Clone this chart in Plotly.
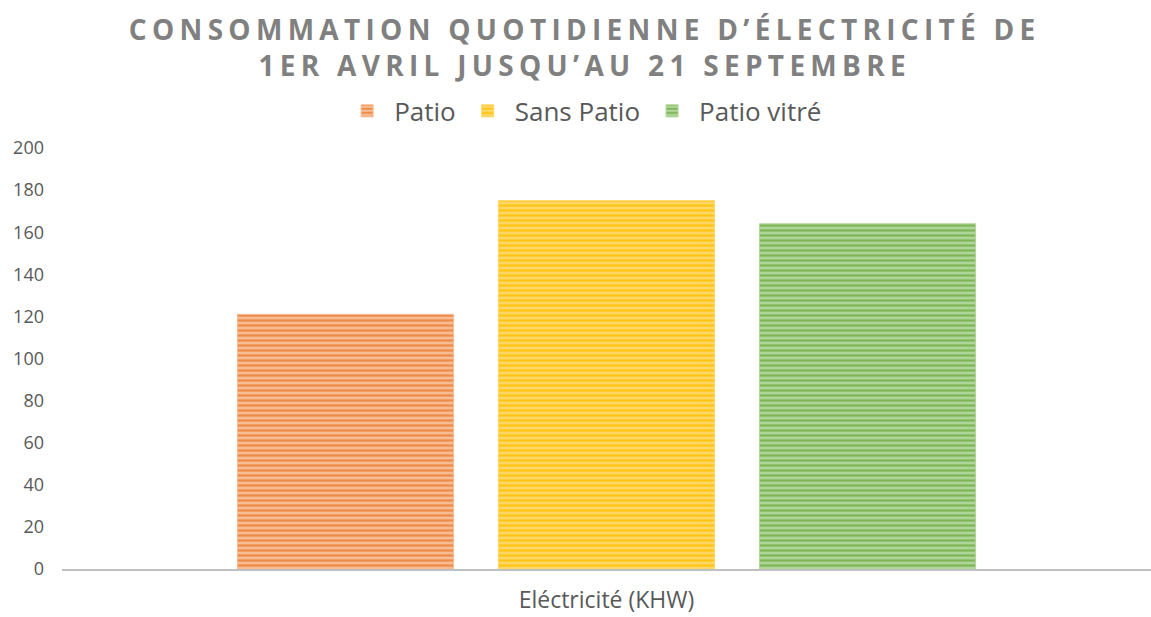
import plotly.graph_objects as go

# Daily electricity consumption, 1 April to 21 September
category = ["Eléctricité (KHW)"]
series_names = ["Patio", "Sans Patio", "Patio vitré"]
series_values = [121, 175, 164]
base_colors = ["#F6BC94", "#FFD766", "#B0D598"]
stripe_colors = ["#ED7D31", "#FFC000", "#70AD47"]
y_ticks = [0, 20, 40, 60, 80, 100, 120, 140, 160, 180, 200]

fig = go.Figure()
for name, val, base, stripe in zip(series_names, series_values, base_colors, stripe_colors):
    fig.add_trace(go.Bar(
        name=name,
        x=category,
        y=[val],
        marker=dict(
            color=base,
            line=dict(color=base, width=1),
            pattern=dict(shape="-", fgcolor=stripe, size=5, solidity=0.45,
                         fillmode="overlay", fgopacity=0.8),
        ),
    ))

title_text = ('<span style="letter-spacing:5.3px">'
              "CONSOMMATION QUOTIDIENNE D’ÉLECTRICITÉ DE<br>"
              "1ER AVRIL JUSQU’AU 21 SEPTEMBRE</span>")

fig.update_layout(
    width=1151, height=617,
    margin=dict(l=62, r=0, t=148, b=48),
    paper_bgcolor="white", plot_bgcolor="white",
    barmode="group", bargap=0.281, bargroupgap=0.172,
    font=dict(family="Open Sans", color="#595959"),
    title=dict(
        text=title_text,
        x=0.508, xanchor="center", yref="container", y=1 - 40 / 617, yanchor="middle",
        font=dict(family="Open Sans", size=28, color="#808080", weight="bold"),
    ),
    legend=dict(
        orientation="h", x=0.479, xanchor="center", y=1.088, yanchor="middle",
        font=dict(size=26, color="#595959"), itemwidth=44, traceorder="normal",
    ),
    showlegend=True,
)
fig.update_xaxes(
    showline=True, linecolor="#C0C0C0", linewidth=1.5, showgrid=False, automargin=False,
    ticks="", tickfont=dict(size=23, color="#595959"), ticklabelstandoff=10,
)
fig.update_yaxes(
    range=[0, 200], tickvals=y_ticks, showgrid=False, zeroline=False, showline=False,
    automargin=False, tickfont=dict(size=18, color="#595959"), ticklabelstandoff=17,
)

fig.write_html("out.html")
